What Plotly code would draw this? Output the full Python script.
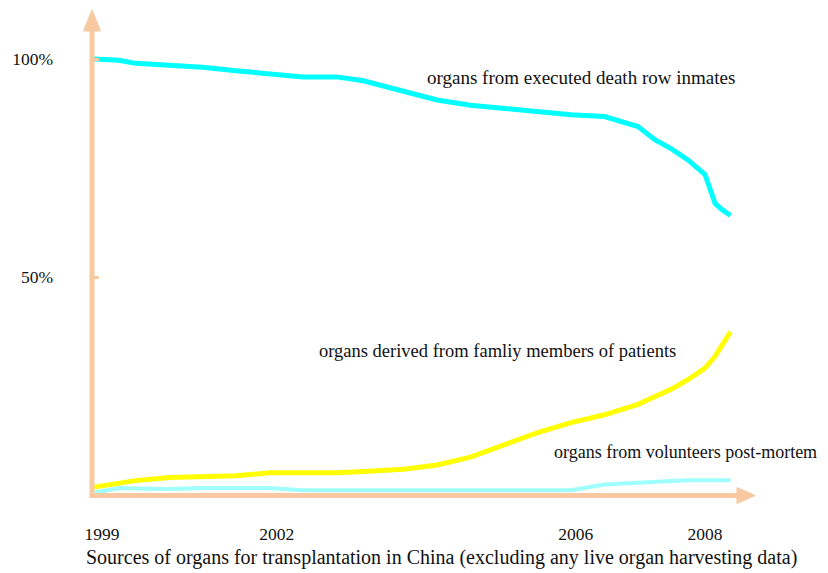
import plotly.graph_objects as go

# ---------------- data ----------------
YEARS = [1998.88, 1999.25, 1999.5, 2000, 2000.5, 2001, 2001.5, 2002, 2002.5, 2002.9,
         2003.5, 2004, 2004.5, 2005, 2005.5, 2006, 2006.5, 2007, 2007.25, 2007.5,
         2007.75, 2008, 2008.15, 2008.25, 2008.38]
EXECUTED = [100, 99.7, 99.0, 98.5, 98.1, 97.3, 96.6, 95.9, 95.9, 95.0,
            92.6, 90.6, 89.4, 88.6, 88.0, 87.2, 86.8, 84.5, 81.5, 79.4,
            76.8, 73.5, 66.9, 65.5, 64.1]
FAMILY = [1.8, 2.8, 3.3, 4.0, 4.1, 4.4, 5.1, 5.1, 5.1, 5.4,
          5.9, 6.9, 8.7, 11.5, 14.3, 16.6, 18.4, 20.8, 22.4, 24.3,
          26.5, 29.1, 31.8, 34.2, 37.4]
VOLUNTEERS = [0.5, 1.6, 1.5, 1.4, 1.6, 1.6, 1.6, 1.1, 1.1, 1.0,
              0.9, 1.0, 1.0, 1.0, 1.0, 1.1, 2.4, 2.9, 3.0, 3.2,
              3.4, 3.4, 3.4, 3.4, 3.4]

SERIES_NAMES = ["organs from executed death row inmates",
                "organs derived from famliy members of patients",
                "organs from volunteers post-mortem"]
X_TICK_LABELS = ["1999", "2002", "2006", "2008"]
X_TICK_AT = [1999, 2001.61, 2006.07, 2008]          # where the hand-drawn labels sit
Y_TICK_VALUES = [50, 100]
Y_TICK_LABELS = ["50%", "100%"]
CAPTION = "Sources of organs for transplantation in China (excluding any live organ harvesting data)"

# ---------------- layout geometry ----------------
OFF = 8                                # page body margin of the html page
W, H = 828 - OFF, 573 - OFF
X0, X1, Y0, Y1 = 92, 760, 10, 495      # plot area in reference pixels
L, R, T, B = X0 - OFF, 828 - X1, Y0 - OFF, 573 - Y1
PW, PH = W - L - R, H - T - B
AXIS = "#F8C8A0"
FONT = "Liberation Serif"


def px(xpix):
    return (xpix - X0) / PW


def py(ypix):
    return (Y1 - ypix) / PH


fig = go.Figure()
fig.add_trace(go.Scatter(x=YEARS, y=VOLUNTEERS, mode="lines", name=SERIES_NAMES[2],
                         line=dict(color="#9FFFFF", width=4)))
fig.add_trace(go.Scatter(x=YEARS, y=FAMILY, mode="lines", name=SERIES_NAMES[1],
                         line=dict(color="#FFFF00", width=5)))
fig.add_trace(go.Scatter(x=YEARS, y=EXECUTED, mode="lines", name=SERIES_NAMES[0],
                         line=dict(color="#00FFFF", width=5)))

# axis lines + arrow heads
shapes = [
    dict(type="line", xref="paper", yref="paper", x0=px(92), x1=px(92), y0=py(498), y1=py(26),
         line=dict(color=AXIS, width=5), layer="above"),
    dict(type="path", xref="paper", yref="paper",
         path=f"M {px(92)},{py(10)} L {px(100.5)},{py(31)} L {px(83.5)},{py(31)} Z",
         fillcolor=AXIS, line=dict(color=AXIS, width=1), layer="above"),
    dict(type="line", xref="paper", yref="paper", x0=px(90), x1=px(740), y0=py(495.5), y1=py(495.5),
         line=dict(color=AXIS, width=5), layer="above"),
    dict(type="path", xref="paper", yref="paper",
         path=f"M {px(755)},{py(495.5)} L {px(737)},{py(487.5)} L {px(737)},{py(503.5)} Z",
         fillcolor=AXIS, line=dict(color=AXIS, width=1), layer="above"),
]

annotations = [
    dict(text=SERIES_NAMES[0], x=px(425), y=py(78), font=dict(size=19)),
    dict(text=SERIES_NAMES[1], x=px(317), y=py(351), font=dict(size=18.5)),
    dict(text=SERIES_NAMES[2], x=px(552), y=py(452), font=dict(size=18)),
    dict(text=CAPTION, x=px(84), y=py(557), font=dict(size=20)),
]
for a in annotations:
    a.update(xref="paper", yref="paper", xanchor="left", yanchor="middle", showarrow=False)

fig.update_layout(
    width=W, height=H,
    margin=dict(l=L, r=R, t=T, b=B, pad=0),
    paper_bgcolor="white", plot_bgcolor="white",
    showlegend=False,
    font=dict(family=FONT, size=17.5, color="#111111"),
    shapes=shapes,
    annotations=annotations,
    xaxis=dict(range=[1999 + (X0 - 102) / 67, 1999 + (X1 - 102) / 67],
               tickmode="array", tickvals=X_TICK_AT, ticktext=X_TICK_LABELS,
               showgrid=False, zeroline=False, showline=False, ticks="",
               ticklabelstandoff=26, fixedrange=True),
    yaxis=dict(range=[0, (Y1 - Y0) / 4.36],
               tickmode="array", tickvals=Y_TICK_VALUES, ticktext=Y_TICK_LABELS,
               showgrid=False, zeroline=False, showline=False,
               ticks="inside", ticklen=7, tickwidth=3, tickcolor=AXIS,
               ticklabelstandoff=38, fixedrange=True),
)

fig.write_html("out.html")
